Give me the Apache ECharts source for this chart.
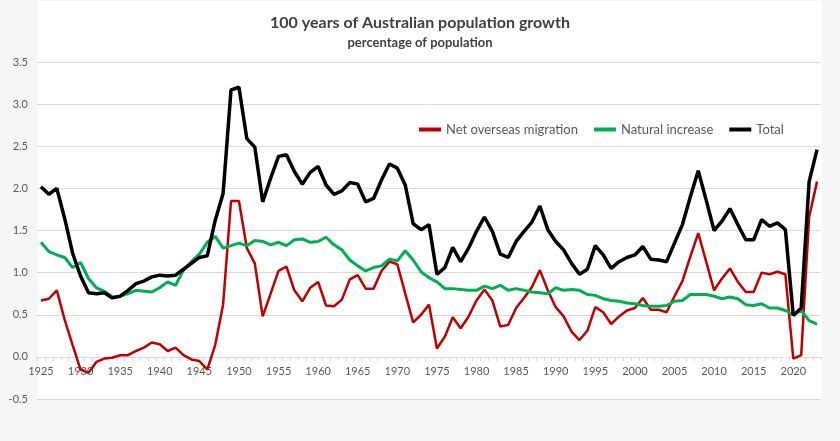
<!DOCTYPE html>
<html>
<head>
<meta charset="utf-8">
<script src="https://cdn.jsdelivr.net/npm/echarts@6/dist/echarts.min.js"></script>
<style>html,body{margin:0;padding:0;background:#f6f6f6;}#chart{width:840px;height:441px;}</style>
</head>
<body>
<div id="chart"></div>
<script>
const years = [];
for (let y = 1925; y <= 2023; y++) years.push(String(y));

const netOverseasMigration = [
 0.67,0.69,0.79,0.44,0.14,-0.15,-0.19,-0.06,-0.02,-0.01,
 0.02,0.02,0.07,0.11,0.17,0.15,0.07,0.11,0.02,-0.03,
 -0.05,-0.15,0.14,0.62,1.85,1.85,1.29,1.11,0.48,0.75,
 1.02,1.07,0.79,0.66,0.82,0.89,0.61,0.60,0.68,0.92,
 0.97,0.81,0.81,1.02,1.13,1.10,0.75,0.41,0.50,0.62,
 0.10,0.24,0.47,0.34,0.48,0.67,0.80,0.67,0.36,0.38,
 0.58,0.70,0.83,1.03,0.79,0.59,0.48,0.30,0.20,0.31,
 0.59,0.53,0.39,0.48,0.55,0.58,0.70,0.56,0.56,0.53,
 0.72,0.90,1.19,1.47,1.13,0.79,0.93,1.05,0.89,0.77,
 0.77,1.00,0.98,1.01,0.98,-0.02,0.02,1.66,2.08
];
const naturalIncrease = [
 1.36,1.25,1.21,1.18,1.06,1.12,0.93,0.82,0.78,0.71,
 0.72,0.75,0.79,0.78,0.77,0.82,0.89,0.85,1.03,1.13,
 1.22,1.36,1.43,1.29,1.32,1.35,1.32,1.38,1.37,1.33,
 1.36,1.32,1.39,1.40,1.36,1.37,1.42,1.33,1.27,1.15,
 1.08,1.02,1.06,1.08,1.16,1.14,1.26,1.15,1.01,0.94,
 0.89,0.81,0.81,0.80,0.79,0.79,0.84,0.81,0.85,0.79,
 0.81,0.79,0.77,0.76,0.75,0.82,0.79,0.80,0.79,0.74,
 0.73,0.69,0.67,0.66,0.64,0.63,0.61,0.60,0.60,0.61,
 0.66,0.67,0.74,0.74,0.74,0.72,0.69,0.71,0.69,0.62,
 0.61,0.63,0.58,0.58,0.55,0.50,0.55,0.43,0.39
];
const total = [
 2.02,1.93,2.00,1.64,1.23,0.96,0.76,0.75,0.76,0.70,
 0.72,0.79,0.87,0.90,0.95,0.97,0.96,0.97,1.04,1.11,
 1.18,1.20,1.62,1.94,3.17,3.20,2.59,2.49,1.84,2.12,
 2.38,2.40,2.20,2.05,2.19,2.26,2.04,1.93,1.97,2.07,
 2.05,1.84,1.88,2.10,2.29,2.24,2.04,1.58,1.51,1.57,
 0.98,1.06,1.30,1.13,1.29,1.49,1.66,1.49,1.22,1.18,
 1.37,1.49,1.60,1.79,1.51,1.37,1.27,1.11,0.98,1.04,
 1.32,1.21,1.05,1.13,1.18,1.21,1.31,1.16,1.15,1.13,
 1.35,1.57,1.90,2.21,1.86,1.50,1.61,1.76,1.57,1.39,
 1.39,1.63,1.55,1.59,1.51,0.49,0.58,2.08,2.46
];
const seriesNames = ['Net overseas migration', 'Natural increase', 'Total'];

const chart = echarts.init(document.getElementById('chart'), null, {renderer: 'canvas'});
const font = 'Lato, "Open Sans", sans-serif';
chart.setOption({
  backgroundColor: '#f6f6f6',
  animation: false,
  graphic: [{
    type: 'rect', z: -10, silent: true,
    shape: {x: 38, y: 1, width: 784, height: 398},
    style: {fill: '#ffffff'}
  }],
  title: {
    text: '100 years of Australian population growth',
    subtext: 'percentage of population',
    left: 'center', top: 10, itemGap: 5,
    textStyle: {fontFamily: font, fontSize: 16, fontWeight: 'bold', color: '#404040'},
    subtextStyle: {fontFamily: font, fontSize: 13, fontWeight: 'bold', color: '#404040'}
  },
  legend: {
    data: seriesNames,
    left: 414, top: 118,
    itemWidth: 22, itemHeight: 4, itemGap: 16,
    icon: 'rect',
    textStyle: {fontFamily: font, fontSize: 13, color: '#595959'}
  },
  grid: {left: 37, right: 19, top: 62, bottom: 42, containLabel: false},
  xAxis: {
    type: 'category', data: years, boundaryGap: true,
    position: 'bottom', offset: -42,
    axisLine: {onZero: false, lineStyle: {color: '#d9d9d9'}},
    axisTick: {show: true, interval: 0, length: 4, lineStyle: {color: '#d9d9d9'}},
    axisLabel: {
      interval: function (i) { return i % 5 === 0; },
      fontFamily: font, fontSize: 11, color: '#595959', margin: 9
    },
    splitLine: {show: false}
  },
  yAxis: {
    type: 'value', min: -0.5, max: 3.5, interval: 0.5,
    axisLine: {show: false}, axisTick: {show: false},
    axisLabel: {formatter: v => v.toFixed(1), fontFamily: font, fontSize: 11, color: '#595959', margin: 9},
    splitLine: {lineStyle: {color: '#d9d9d9', width: 1}}
  },
  series: [
    {name: seriesNames[0], type: 'line', data: netOverseasMigration, showSymbol: false,
     lineStyle: {color: '#c00000', width: 2.5}, itemStyle: {color: '#c00000'}, z: 2},
    {name: seriesNames[1], type: 'line', data: naturalIncrease, showSymbol: false,
     lineStyle: {color: '#00b050', width: 3}, itemStyle: {color: '#00b050'}, z: 3},
    {name: seriesNames[2], type: 'line', data: total, showSymbol: false,
     lineStyle: {color: '#000000', width: 3.5}, itemStyle: {color: '#000000'}, z: 4}
  ]
});
</script>
</body>
</html>
